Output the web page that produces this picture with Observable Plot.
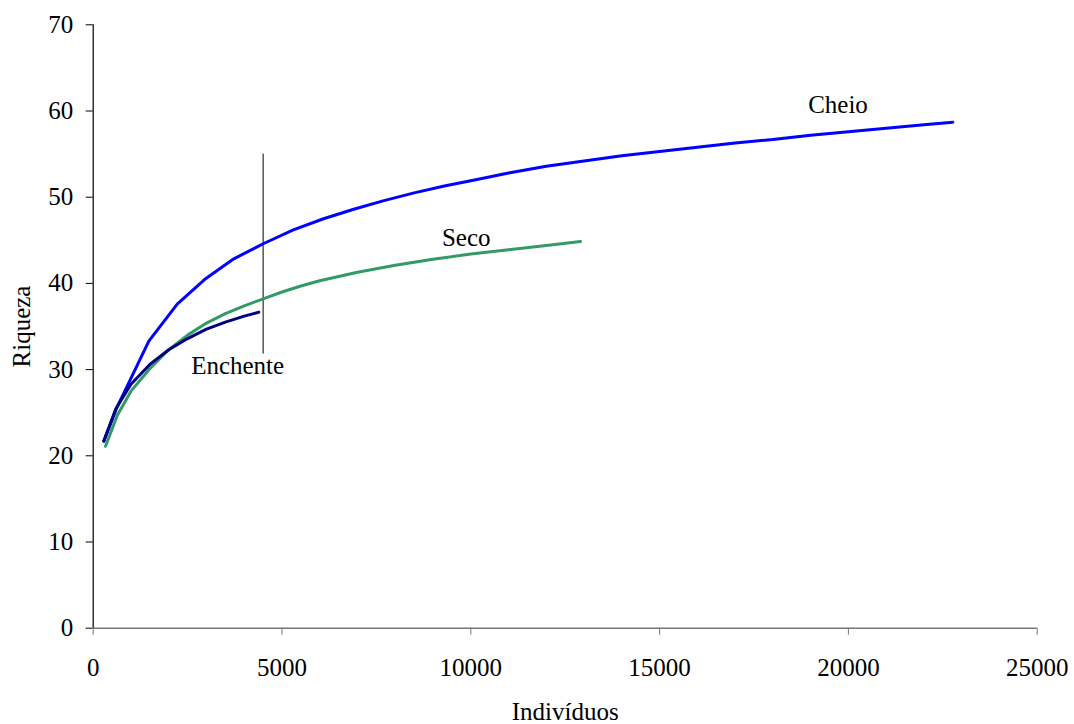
<!DOCTYPE html>
<html>
<head>
<meta charset="utf-8">
<script src="https://cdn.jsdelivr.net/npm/d3@7"></script>
<script src="https://cdn.jsdelivr.net/npm/@observablehq/plot@0.6"></script>
<style>
  html, body { margin: 0; padding: 0; background: #ffffff; }
</style>
</head>
<body>
<div id="chart"></div>
<script>
// Rarefaction curves: [Indivíduos, Riqueza]
const cheio = [
  [281, 21.7], [617, 25.5], [1473, 33.3], [2225, 37.6], [2948, 40.45], [3724, 42.85],
  [4502, 44.6], [5300, 46.2], [6100, 47.5], [6900, 48.6], [7700, 49.6], [8500, 50.5],
  [9300, 51.3], [10100, 52.0], [11000, 52.8], [12000, 53.6], [13000, 54.2], [14000, 54.8],
  [15000, 55.3], [16000, 55.8], [17000, 56.3], [18000, 56.7], [19000, 57.2], [20000, 57.6],
  [21000, 58.0], [22000, 58.4], [22765, 58.7]
];
const seco = [
  [326, 21.1], [640, 24.7], [1000, 27.5], [1500, 30.1], [2000, 32.3], [2500, 34.0],
  [3000, 35.4], [3500, 36.5], [4000, 37.4], [4500, 38.2], [5000, 39.0], [5500, 39.7],
  [6000, 40.3], [7000, 41.3], [8000, 42.1], [9000, 42.8], [10000, 43.4], [11000, 43.9],
  [12000, 44.4], [12905, 44.86]
];
const enchente = [
  [281, 21.7], [600, 25.45], [1000, 28.3], [1500, 30.6], [2000, 32.3], [2500, 33.6],
  [3000, 34.7], [3500, 35.5], [4000, 36.2], [4386, 36.66]
];
const seriesNames = ["Cheio", "Seco", "Enchente"];
const seriesColors = ["#0000ff", "#339966", "#000080"];
const labelX = [19725, 9878, 3825];
const labelY = [60.68, 45.24, 30.44];
const markerX = [4500];
const markerY = [31.8, 55.0];
const xTicks = [0, 5000, 10000, 15000, 20000, 25000];
const yTicks = [0, 10, 20, 30, 40, 50, 60, 70];

const seriesData = [cheio, seco, enchente];
const rows = seriesData.flatMap((s, i) => s.map(([x, y]) => ({serie: seriesNames[i], x, y})));
const labels = seriesNames.map((name, i) => ({name, x: labelX[i], y: labelY[i]}));
const colorOf = Object.fromEntries(seriesNames.map((n, i) => [n, seriesColors[i]]));

const chart = Plot.plot({
  width: 1074,
  height: 724,
  marginLeft: 92.7,
  marginRight: 37.3,
  marginTop: 24.3,
  marginBottom: 96.3,
  style: {fontFamily: "'Liberation Serif', 'Times New Roman', serif", fontSize: "25px", background: "#ffffff", color: "#000"},
  x: {domain: [0, 25000]},
  y: {domain: [0, 70]},
  marks: [
    Plot.axisY({ticks: yTicks, tickSize: 7, tickPadding: 13, label: null, tickFormat: d => String(d)}),
    Plot.axisX({ticks: xTicks, tickSize: 7, tickPadding: 23, label: null, stroke: "#777", tickFormat: d => String(d)}),
    Plot.ruleY([0], {stroke: "#777", strokeWidth: 1.5}),
    Plot.ruleX([0], {stroke: "#000", strokeWidth: 1.2}),
    Plot.ruleX(markerX, {y1: markerY[0], y2: markerY[1], stroke: "#000", strokeWidth: 1}),
    Plot.line(rows, {x: "x", y: "y", z: "serie", stroke: d => colorOf[d.serie], strokeWidth: 3, strokeLinejoin: "round", strokeLinecap: "round"}),
    Plot.text(labels, {x: "x", y: "y", text: "name", fill: "#000", fontSize: 25}),
    Plot.text(["Indivíduos"], {frameAnchor: "bottom", dy: 84, textAnchor: "middle", lineAnchor: "middle", fill: "#000", fontSize: 25}),
    Plot.text(["Riqueza"], {frameAnchor: "left", dx: -71, rotate: -90, textAnchor: "middle", lineAnchor: "middle", fill: "#000", fontSize: 25})
  ]
});
document.getElementById("chart").appendChild(chart);
</script>
</body>
</html>
